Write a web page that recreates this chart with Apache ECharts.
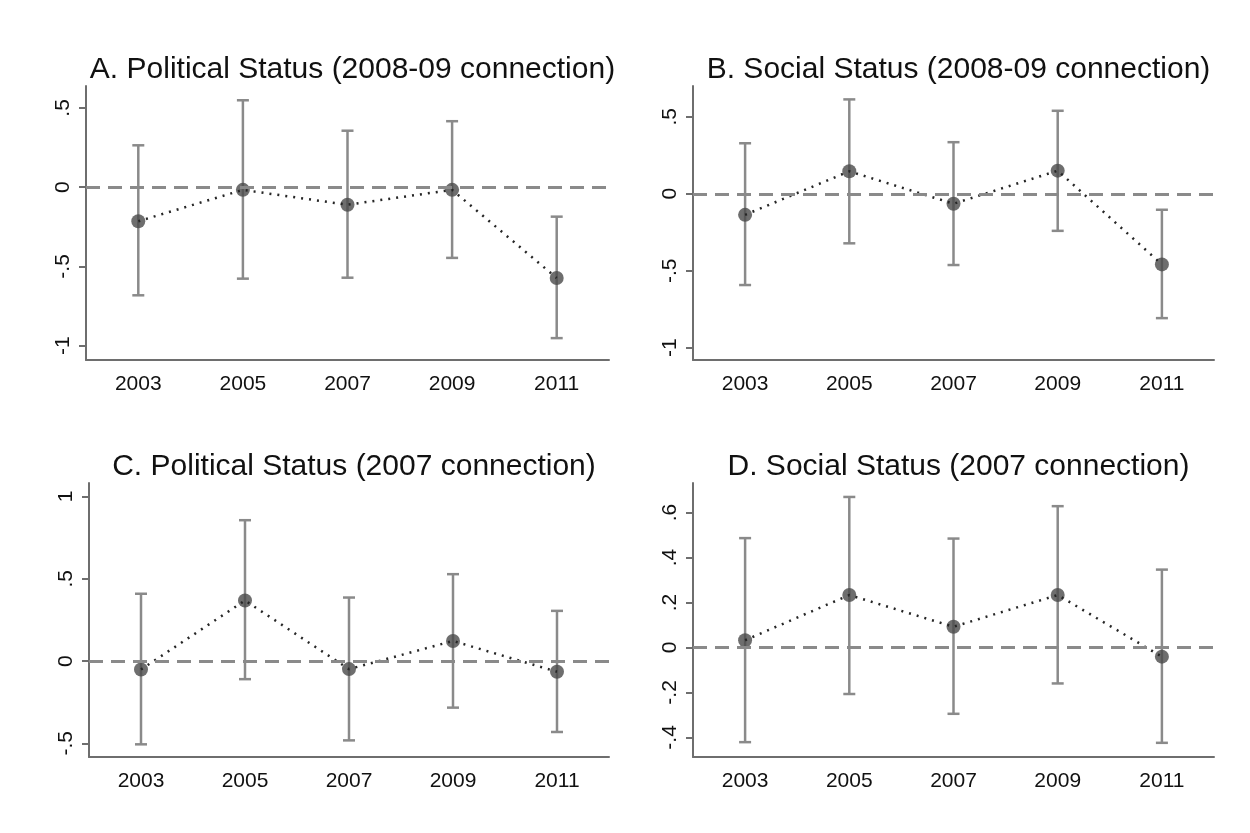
<!DOCTYPE html>
<html>
<head>
<meta charset="utf-8">
<script src="https://cdn.jsdelivr.net/npm/echarts@6/dist/echarts.min.js"></script>
<style>
  html, body { margin: 0; padding: 0; background: #ffffff; }
  #chart { width: 1250px; height: 833px; }
</style>
</head>
<body>
<div id="chart"></div>
<script>
// Survey years shared by every panel
const years = ['2003', '2005', '2007', '2009', '2011'];

// Panel titles
const titleA = 'A. Political Status (2008-09 connection)';
const titleB = 'B. Social Status (2008-09 connection)';
const titleC = 'C. Political Status (2007 connection)';
const titleD = 'D. Social Status (2007 connection)';

// Point estimates and confidence bounds per panel
const estA   = [-0.215, -0.017, -0.111, -0.017, -0.573];
const upperA = [ 0.264,  0.548,  0.356,  0.416, -0.186];
const lowerA = [-0.682, -0.577, -0.571, -0.446, -0.952];

const estB   = [-0.137,  0.146, -0.065,  0.150, -0.459];
const upperB = [ 0.328,  0.613,  0.335,  0.539, -0.104];
const lowerB = [-0.593, -0.322, -0.463, -0.241, -0.808];

const estC   = [-0.051,  0.368, -0.049,  0.122, -0.065];
const upperC = [ 0.409,  0.856,  0.386,  0.528,  0.305];
const lowerC = [-0.506, -0.110, -0.482, -0.283, -0.431];

const estD   = [ 0.032,  0.233,  0.092,  0.233, -0.041];
const upperD = [ 0.486,  0.669,  0.484,  0.628,  0.346];
const lowerD = [-0.421, -0.207, -0.295, -0.160, -0.424];

// Y tick values per panel
const ticksA = [-1, -0.5, 0, 0.5];
const ticksB = [-1, -0.5, 0, 0.5];
const ticksC = [-0.5, 0, 0.5, 1];
const ticksD = [-0.4, -0.2, 0, 0.2, 0.4, 0.6];

// Y axis extents per panel
const rangeA = [-1.09, 0.638];
const rangeB = [-1.08, 0.70];
const rangeC = [-0.583, 1.082];
const rangeD = [-0.487, 0.731];

const FONT = "'Liberation Sans', Arial, sans-serif";
const AXIS_COLOR = '#6e6e6e';
const BAR_COLOR = '#8a8a8a';
const DOT_COLOR = '#4a4a4a';

// Stata-style tick label: drop the leading zero (".5", "-.2")
function fmtTick(v) {
  if (v === 0) return '0';
  let s = String(Math.round(v * 100) / 100);
  return s.replace(/^0\./, '.').replace(/^-0\./, '-.');
}

const panels = [
  { title: titleA, est: estA, up: upperA, lo: lowerA, ticks: ticksA, range: rangeA,
    grid: { left: 86, top: 86, width: 523, height: 274 } },
  { title: titleB, est: estB, up: upperB, lo: lowerB, ticks: ticksB, range: rangeB,
    grid: { left: 693, top: 86, width: 521, height: 274 } },
  { title: titleC, est: estC, up: upperC, lo: lowerC, ticks: ticksC, range: rangeC,
    grid: { left: 89, top: 483, width: 520, height: 274 } },
  { title: titleD, est: estD, up: upperD, lo: lowerD, ticks: ticksD, range: rangeD,
    grid: { left: 693, top: 483, width: 521, height: 274 } }
];

const option = {
  backgroundColor: '#ffffff',
  animation: false,
  title: [],
  grid: [],
  xAxis: [],
  yAxis: [],
  series: []
};

panels.forEach((p, i) => {
  option.grid.push(Object.assign({ containLabel: false }, p.grid));

  option.title.push({
    text: p.title,
    left: p.grid.left + p.grid.width / 2,
    top: p.grid.top - 36,
    textAlign: 'center',
    textStyle: { fontFamily: FONT, fontSize: 30, fontWeight: 'normal', color: '#111111' }
  });

  option.xAxis.push({
    type: 'category',
    gridIndex: i,
    data: years,
    boundaryGap: true,
    axisLine: { onZero: false, lineStyle: { color: AXIS_COLOR, width: 2 } },
    axisTick: { alignWithLabel: true, length: 7, lineStyle: { color: AXIS_COLOR, width: 2 } },
    axisLabel: { fontFamily: FONT, fontSize: 21, color: '#111111', margin: 14 },
    splitLine: { show: false }
  });

  option.yAxis.push({
    type: 'value',
    gridIndex: i,
    min: p.range[0],
    max: p.range[1],
    axisLine: { show: true, onZero: false, lineStyle: { color: AXIS_COLOR, width: 2 } },
    axisTick: { show: true, length: 7, customValues: p.ticks, lineStyle: { color: AXIS_COLOR, width: 2 } },
    axisLabel: {
      fontFamily: FONT, fontSize: 21, color: '#111111', margin: 12, rotate: 90,
      customValues: p.ticks, formatter: fmtTick
    },
    splitLine: { show: false }
  });

  // Confidence intervals with caps, plus the zero reference line
  option.series.push({
    type: 'custom',
    xAxisIndex: i,
    yAxisIndex: i,
    z: 2,
    silent: true,
    data: p.est.map((_, k) => [k, p.lo[k], p.up[k]]),
    renderItem: function (params, api) {
      const lo = api.coord([api.value(0), api.value(1)]);
      const hi = api.coord([api.value(0), api.value(2)]);
      const cap = 6;
      const style = { stroke: BAR_COLOR, lineWidth: 2.5, fill: null };
      return {
        type: 'group',
        children: [
          { type: 'line', shape: { x1: lo[0], y1: lo[1], x2: hi[0], y2: hi[1] }, style: style },
          { type: 'line', shape: { x1: hi[0] - cap, y1: hi[1], x2: hi[0] + cap, y2: hi[1] }, style: style },
          { type: 'line', shape: { x1: lo[0] - cap, y1: lo[1], x2: lo[0] + cap, y2: lo[1] }, style: style }
        ]
      };
    },
    markLine: {
      silent: true,
      symbol: 'none',
      label: { show: false },
      lineStyle: { color: '#8a8a8a', width: 3, type: [14, 8] },
      data: [{ yAxis: 0 }]
    }
  });

  // Point estimates
  option.series.push({
    type: 'scatter',
    xAxisIndex: i,
    yAxisIndex: i,
    z: 3,
    silent: true,
    symbol: 'circle',
    symbolSize: 14,
    itemStyle: { color: DOT_COLOR },
    data: p.est
  });

  // Dotted connector drawn over the markers
  option.series.push({
    type: 'line',
    xAxisIndex: i,
    yAxisIndex: i,
    z: 4,
    silent: true,
    showSymbol: false,
    symbol: 'none',
    lineStyle: { color: '#262626', width: 2.5, type: [2, 6] },
    data: p.est
  });
});

const chart = echarts.init(document.getElementById('chart'), null, { renderer: 'canvas' });
chart.setOption(option);
</script>
</body>
</html>
